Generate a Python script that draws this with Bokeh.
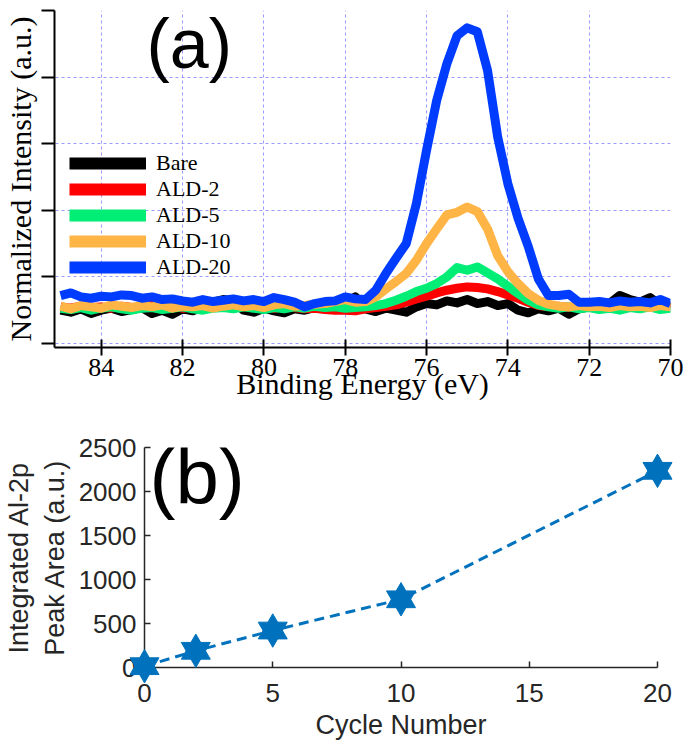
from bokeh.plotting import figure
from bokeh.models import Range1d, FixedTicker, Legend, LegendItem, Label
from bokeh.embed import file_html
from bokeh.resources import INLINE

# ---------------- panel (a): Al-2p spectra ----------------
energy = [85.0, 84.75, 84.5, 84.25, 84.0, 83.75, 83.5, 83.25, 83.0, 82.75,
          82.5, 82.25, 82.0, 81.75, 81.5, 81.25, 81.0, 80.75, 80.5, 80.25,
          80.0, 79.75, 79.5, 79.25, 79.0, 78.75, 78.5, 78.25, 78.0, 77.75,
          77.5, 77.25, 77.0, 76.75, 76.5, 76.25, 76.0, 75.75, 75.5, 75.25,
          75.0, 74.75, 74.5, 74.25, 74.0, 73.75, 73.5, 73.25, 73.0, 72.75,
          72.5, 72.25, 72.0, 71.75, 71.5, 71.25, 71.0, 70.75, 70.5, 70.25,
          70.0]

bare = [0.50, 0.47, 0.52, 0.45, 0.50, 0.53, 0.48, 0.51, 0.54, 0.45,
        0.50, 0.44, 0.52, 0.49, 0.56, 0.62, 0.66, 0.64, 0.50, 0.47,
        0.53, 0.49, 0.46, 0.52, 0.50, 0.54, 0.56, 0.52, 0.58, 0.70,
        0.52, 0.48, 0.53, 0.50, 0.47, 0.55, 0.60, 0.58, 0.64, 0.61,
        0.66, 0.60, 0.63, 0.57, 0.60, 0.50, 0.46, 0.52, 0.49, 0.53,
        0.44, 0.52, 0.55, 0.53, 0.60, 0.72, 0.66, 0.62, 0.69, 0.58,
        0.55]

ald2 = [0.55, 0.53, 0.56, 0.54, 0.55, 0.53, 0.56, 0.54, 0.55, 0.57,
        0.54, 0.56, 0.53, 0.55, 0.54, 0.56, 0.55, 0.53, 0.56, 0.54,
        0.55, 0.53, 0.55, 0.54, 0.52, 0.53, 0.51, 0.50, 0.50, 0.49,
        0.52, 0.54, 0.56, 0.58, 0.62, 0.67, 0.71, 0.76, 0.80, 0.83,
        0.85, 0.84, 0.82, 0.78, 0.73, 0.68, 0.62, 0.57, 0.55, 0.56,
        0.54, 0.57, 0.55, 0.56, 0.54, 0.57, 0.55, 0.53, 0.56, 0.55,
        0.54]

ald5 = [0.53, 0.51, 0.54, 0.50, 0.53, 0.55, 0.52, 0.50, 0.53, 0.54,
        0.51, 0.53, 0.55, 0.52, 0.50, 0.53, 0.54, 0.52, 0.55, 0.53,
        0.51, 0.54, 0.52, 0.55, 0.53, 0.56, 0.54, 0.55, 0.53, 0.54,
        0.55, 0.57, 0.60, 0.65, 0.71, 0.78, 0.83, 0.90, 1.00, 1.14,
        1.10, 1.15, 1.06, 0.97, 0.86, 0.75, 0.65, 0.58, 0.55, 0.53,
        0.55, 0.52, 0.54, 0.51, 0.53, 0.50, 0.54, 0.52, 0.55, 0.51,
        0.53]

ald10 = [0.56, 0.52, 0.57, 0.55, 0.53, 0.58, 0.56, 0.54, 0.57, 0.55,
         0.58, 0.53, 0.56, 0.55, 0.57, 0.53, 0.56, 0.58, 0.55, 0.57,
         0.54, 0.58, 0.60, 0.56, 0.57, 0.59, 0.60, 0.63, 0.66, 0.62,
         0.63, 0.70, 0.82, 0.93, 1.05, 1.25, 1.50, 1.72, 1.93, 1.97,
         2.05, 1.98, 1.72, 1.32, 1.08, 0.90, 0.75, 0.65, 0.59, 0.56,
         0.55, 0.57, 0.55, 0.56, 0.54, 0.57, 0.55, 0.56, 0.54, 0.57,
         0.55]

ald20 = [0.72, 0.76, 0.70, 0.68, 0.71, 0.70, 0.73, 0.72, 0.68, 0.70,
         0.66, 0.67, 0.64, 0.62, 0.66, 0.63, 0.65, 0.67, 0.64, 0.66,
         0.63, 0.69, 0.66, 0.62, 0.55, 0.60, 0.63, 0.64, 0.70, 0.67,
         0.66, 0.80, 1.05, 1.28, 1.50, 2.10, 2.90, 3.65, 4.20, 4.62,
         4.74, 4.68, 4.10, 3.10, 2.40, 1.88, 1.46, 0.97, 0.72, 0.72,
         0.74, 0.62, 0.62, 0.63, 0.61, 0.64, 0.62, 0.63, 0.61, 0.66,
         0.60]

series_labels = ["Bare", "ALD-2", "ALD-5", "ALD-10", "ALD-20"]
series_values = [bare, ald2, ald5, ald10, ald20]
series_colors = ["#000000", "#ff0000", "#00ee76", "#ffb446", "#003cff"]

x_ticks_a = [84, 82, 80, 78, 76, 74, 72, 70]
y_ticks_a = [0, 1, 2, 3, 4, 5]

# ---------------- panel (b): integrated peak area ----------------
cycles = [0, 2, 5, 10, 20]
peak_area = [15, 190, 420, 775, 2235]
x_ticks_b = [0, 5, 10, 15, 20]
y_ticks_b = [0, 500, 1000, 1500, 2000, 2500]

SERIF = "Liberation Serif"
SANS = "Liberation Sans"

pa = figure(frame_width=616, frame_height=337, output_backend="svg",
            toolbar_location=None,
            x_range=Range1d(85.15, 70), y_range=Range1d(-0.06, 5.0),
            min_border_left=54, min_border_right=13, min_border_top=10,
            min_border_bottom=60)
pa.outline_line_color = None

for vals, col in zip(series_values, series_colors):
    pa.line(energy, vals, line_color=col, line_width=9, line_join="round")

items = []
for lab, vals, col in zip(series_labels, series_values, series_colors):
    # one-point line: draws nothing in the plot, only gives the legend swatch
    r = pa.line(energy[:1], vals[:1], line_color=col, line_width=12)
    items.append(LegendItem(label=lab, renderers=[r]))
leg = Legend(items=items, location=(15, 67), padding=0, margin=0, spacing=0,
             glyph_width=77, glyph_height=26, label_height=26, label_standoff=10,
             label_text_font=SERIF, label_text_font_size="22px",
             label_text_color="black",
             background_fill_alpha=0, border_line_color=None)
pa.add_layout(leg)

pa.xaxis.ticker = FixedTicker(ticks=x_ticks_a)
pa.xaxis.axis_line_width = 2
pa.xaxis.major_tick_line_width = 2
pa.xaxis.major_tick_in = 8
pa.xaxis.major_tick_out = 8
pa.xaxis.minor_tick_line_color = None
pa.xaxis.major_label_text_font = SERIF
pa.xaxis.major_label_text_font_size = "26px"
pa.xaxis.major_label_text_color = "black"
pa.xaxis.major_label_standoff = 3
pa.xaxis.axis_label = "Binding Energy (eV)"
pa.xaxis.axis_label_text_font = SERIF
pa.xaxis.axis_label_text_font_style = "normal"
pa.xaxis.axis_label_text_font_size = "30px"
pa.xaxis.axis_label_text_color = "black"
pa.xaxis.axis_label_standoff = -12

pa.yaxis.ticker = FixedTicker(ticks=y_ticks_a)
pa.yaxis.axis_line_width = 2
pa.yaxis.major_tick_line_width = 2
pa.yaxis.major_tick_in = 0
pa.yaxis.major_tick_out = 13
pa.yaxis.minor_tick_line_color = None
pa.yaxis.major_label_overrides = {t: "" for t in y_ticks_a}
pa.yaxis.major_label_standoff = 0
pa.yaxis.axis_label = "Normalized Intensity (a.u.)"
pa.yaxis.axis_label_text_font = SERIF
pa.yaxis.axis_label_text_font_style = "normal"
pa.yaxis.axis_label_text_font_size = "30px"
pa.yaxis.axis_label_text_color = "black"
pa.yaxis.axis_label_standoff = 5

pa.grid.grid_line_color = "#9a9aff"
pa.grid.grid_line_dash = "3 3"
pa.grid.grid_line_width = 1

pa.add_layout(Label(x=92, y=304, x_units="screen", y_units="screen", text="(a)",
                    text_font=SANS, text_font_size="70px", text_color="black",
                    text_baseline="alphabetic"))

pb = figure(frame_width=513, frame_height=220, output_backend="svg",
            toolbar_location=None,
            x_range=Range1d(0, 20), y_range=Range1d(0, 2500),
            min_border_left=140, min_border_right=30, min_border_top=40,
            min_border_bottom=80)
pb.outline_line_color = None
pb.grid.visible = False

blue = "#0072bd"
pb.line(cycles, peak_area, line_color=blue, line_width=3, line_dash="10 6")
pb.scatter(cycles, peak_area, marker="triangle", size=29, fill_color=blue,
           line_color=blue, level="overlay")
pb.scatter(cycles, peak_area, marker="inverted_triangle", size=29, fill_color=blue,
           line_color=blue, level="overlay")

for ax in (pb.xaxis, pb.yaxis):
    ax.axis_line_color = "#262626"
    ax.axis_line_width = 1.5
    ax.major_tick_line_color = "#262626"
    ax.major_tick_line_width = 1.5
    ax.major_tick_in = 6
    ax.major_tick_out = 0
    ax.minor_tick_line_color = None
    ax.major_label_text_font = SANS
    ax.major_label_text_font_size = "26px"
    ax.major_label_text_color = "#262626"
    ax.axis_label_text_font = SANS
    ax.axis_label_text_font_style = "normal"
    ax.axis_label_text_font_size = "27px"
    ax.axis_label_text_color = "#262626"

pb.xaxis.ticker = FixedTicker(ticks=x_ticks_b)
pb.xaxis.major_label_standoff = 16
pb.xaxis.axis_label = "Cycle Number"
pb.xaxis.axis_label_standoff = 5
pb.yaxis.ticker = FixedTicker(ticks=y_ticks_b)
pb.yaxis.major_label_standoff = 8
pb.yaxis.axis_label = "Integrated Al-2p\nPeak Area (a.u.)"
pb.yaxis.axis_label_standoff = 6

pb.add_layout(Label(x=5, y=191, x_units="screen", y_units="screen", text="(b)",
                    text_font=SANS, text_font_size="78px", text_color="black",
                    text_baseline="alphabetic"))

open("out.html", "w").write(file_html([pa, pb], INLINE))
